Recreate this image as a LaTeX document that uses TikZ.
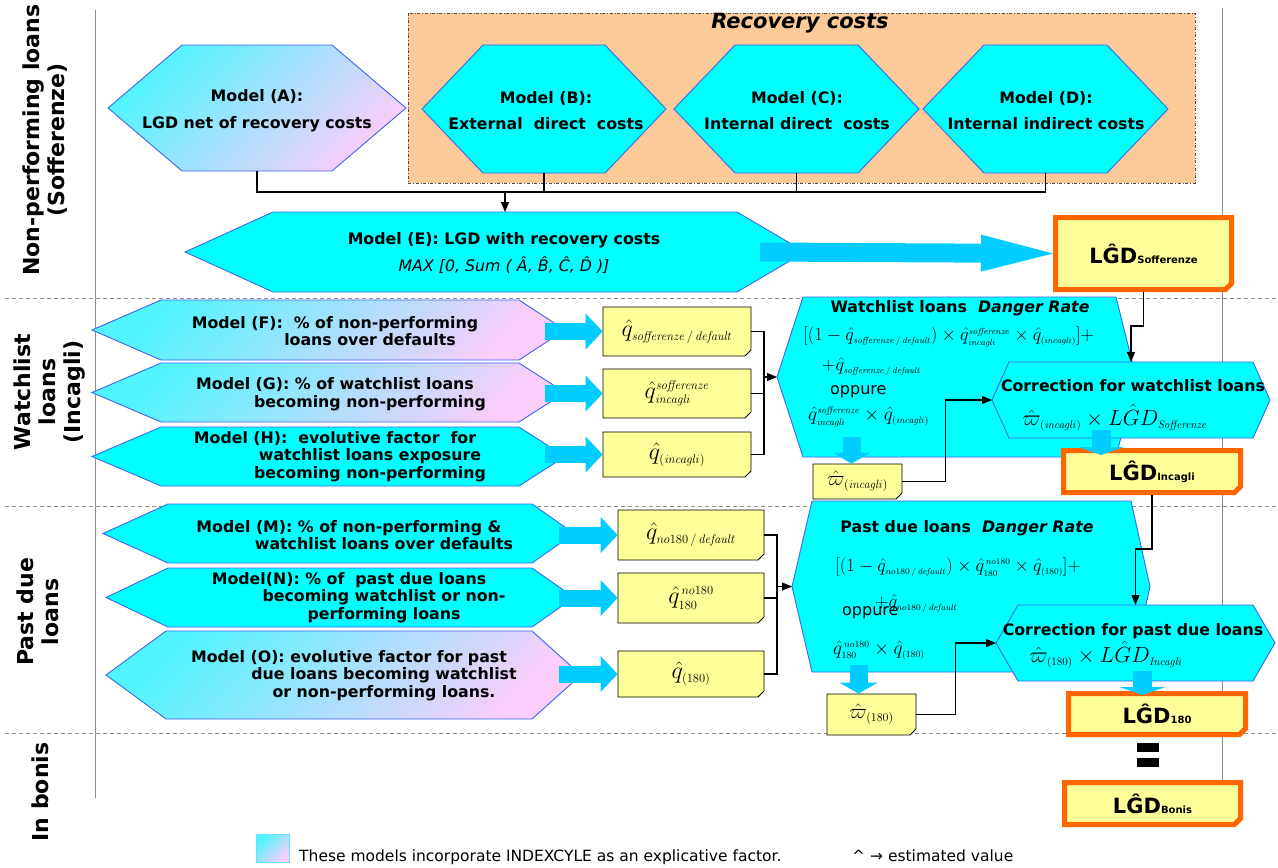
\RequirePackage{fix-cm}
\documentclass[tikz,border=0pt]{standalone}
\usepackage[no-math]{fontspec}
\setmainfont{DejaVu Sans}
\usetikzlibrary{arrows.meta, calc, shapes.misc}

\definecolor{hexcyan}{RGB}{0,255,255}
\definecolor{hexline}{RGB}{60,100,245}
\definecolor{gradcyan}{RGB}{80,245,255}
\definecolor{gradpink}{RGB}{250,205,250}
\definecolor{blockblue}{RGB}{0,204,255}
\definecolor{noteyellow}{RGB}{255,255,153}
\definecolor{lgdorange}{RGB}{255,102,0}
\definecolor{recpeach}{RGB}{252,202,152}
\definecolor{sepgray}{RGB}{140,140,140}

% formula sizes with small indices
\DeclareMathSizes{24}{24}{12.5}{9}
\DeclareMathSizes{22}{22}{11}{8}
\DeclareMathSizes{21}{21}{12}{9}
\DeclareMathSizes{18.5}{18.5}{8.8}{7}
\DeclareMathSizes{19.5}{19.5}{9.5}{7}

\begin{document}
\begin{tikzpicture}[
    x=1pt, y=-1pt,
    >={Triangle[length=10pt, width=8pt]},
    hexbox/.style={rectangle, inner sep=0pt, outer sep=0pt},
    hexflat/.style={fill=hexcyan, draw=hexline, line width=0.9pt},
    hexgrad/.style={left color=gradcyan, right color=gradpink, shading angle=45,
                    draw=hexline, line width=0.9pt},
    lbl/.style={font=\bfseries\fontsize{15.8}{17.5}\selectfont, align=center,
                inner sep=0pt},
    sidelbl/.style={font=\bfseries\fontsize{22}{25}\selectfont, align=center,
                    rotate=90, inner sep=0pt},
    form/.style={font=\fontsize{18.5}{20}\selectfont, inner sep=0pt, anchor=west},
    oppure/.style={font=\fontsize{16}{18}\selectfont, inner sep=0pt, anchor=west},
    corr/.style={font=\fontsize{22}{24}\selectfont, inner sep=0pt},
    note/.style={chamfered rectangle, chamfered rectangle corners=south east,
                 chamfered rectangle sep=3pt, draw, line width=0.8pt,
                 fill=noteyellow, inner sep=0pt},
    qbox/.style={note, font=\fontsize{24}{26}\selectfont},
    wbox/.style={note, minimum width=89pt, font=\fontsize{21}{23}\selectfont},
    lgd/.style={note, draw=lgdorange, line width=5pt,
                font=\bfseries\fontsize{21}{24}\selectfont},
    link/.style={line width=1.1pt, black},
    secline/.style={draw=sepgray, line width=1pt},
    divider/.style={draw=sepgray, line width=0.8pt, dash pattern=on 4pt off 3pt},
    bigarrow/.style={draw=blockblue, line width=19pt,
                     -{Triangle[length=72pt, width=37pt, line width=0pt]}},
    smallarrow/.style={draw=blockblue, line width=17pt,
                       -{Triangle[length=17pt, width=36pt, line width=0pt]}},
    downarrow/.style={draw=blockblue, line width=18pt,
                      -{Triangle[length=11pt, width=38pt, line width=0pt]}},
    flatarrow/.style={draw=blockblue, line width=19pt,
                      -{Triangle[length=8pt, width=46pt, line width=0pt]}}
  ]
  \useasboundingbox (0,0) rectangle (1278,868);

  % section rules
  \draw[secline] (95,10) -- (95,798);
  \draw[secline] (1222,8) -- (1222,790);
  \foreach \y in {298,506,733}
    \draw[divider] (5,\y) -- (1278,\y);

  % recovery costs frame
  \draw[fill=recpeach, draw=black!70, dash dot, line width=0.9pt]
    (408,13) rectangle (1195,183);
  \node[font=\bfseries\itshape\fontsize{21}{24}\selectfont] (tRC) at (800,23)
    {Recovery costs};

  % hexagons: name/x/y/width/height/left tip/right tip/style
  \foreach \n/\x/\y/\w/\h/\dl/\dr/\s in {
      mA/257/108/298/126/74/74/hexgrad, mB/544/109/244/128/61/61/hexflat,
      mC/796.5/109/245/128/61/61/hexflat, mD/1045.5/109/245/128/61/61/hexflat,
      mE/495/252/620/80/88/68/hexflat,
      mF/328.5/330/473/60/69/46/hexgrad, mG/328.5/392.5/473/59/69/46/hexgrad,
      mH/328.5/456.5/473/59/69/46/hexflat,
      mM/338.5/533.5/471/59/65/42/hexflat, mN/340/597.5/468/59/62/42/hexflat,
      mO/343.5/675/475/88/60/49/hexgrad,
      drW/956.5/377/359/160/26/20/hexflat, drP/971/586.5/358/171/20/19/hexflat,
      corW/1131/400/278/76/17/17/hexflat, corP/1135.5/643/279/76/22/22/hexflat} {
    \node[hexbox, minimum width=\w, minimum height=\h] (\n) at (\x,\y) {};
    \draw[\s] (\n.west) -- ($(\n.north west)+(\dl,0)$)
      -- ($(\n.north east)+(-\dr,0)$) -- (\n.east)
      -- ($(\n.south east)+(-\dr,0)$) -- ($(\n.south west)+(\dl,0)$) -- cycle;
  }

  % section labels
  \node[sidelbl] (lNP) at (45,140) {Non-performing loans\\(Sofferenze)};
  \node[sidelbl] (lWL) at (50,392) {Watchlist\\loans\\(Incagli)};
  \node[sidelbl] (lPD) at (38,612) {Past due\\loans};
  \node[sidelbl] (lIB) at (40,792) {In bonis};

  % model texts
  \node[lbl] (tA) at (257,110.5) {Model (A):\\[9pt]LGD net of recovery costs};
  \node[lbl] (tB) at (546,110.5) {Model (B):\\[9pt]External~ direct~ costs};
  \node[lbl] (tC) at (797,110.5) {Model (C):\\[9pt]Internal direct~ costs};
  \node[lbl] (tD) at (1046,110.5) {Model (D):\\[9pt]Internal indirect costs};
  \node[lbl] (tE) at (504,253) {Model (E): LGD with recovery costs\\[7pt]
    {\mdseries\itshape MAX [0, Sum ( \^A, \^B, \^C, \^D )]}};
  \node[lbl] (tF) at (370,331)
    {Model (F):~ \% of non-performing\hspace*{70pt}\\loans over defaults};
  \node[lbl] (tG) at (370,394)
    {Model (G): \% of watchlist loans\hspace*{70pt}\\becoming non-performing};
  \node[lbl] (tH) at (370,456.5)
    {Model (H):~ evolutive factor~ for\hspace*{70pt}\\watchlist loans exposure\\becoming non-performing};
  \node[lbl] (tM) at (384,535)
    {Model (M): \% of non-performing \&\hspace*{70pt}\\watchlist loans over defaults};
  \node[lbl] (tN) at (384,597.5)
    {Model(N): \% of~ past due loans\hspace*{70pt}\\becoming watchlist or non-\\performing loans};
  \node[lbl] (tO) at (384,675.5)
    {Model (O): evolutive factor for past\hspace*{70pt}\\due loans becoming watchlist\\or non-performing loans.};

  % danger rates
  \node[lbl] (tDW) at (960,308) {Watchlist loans~ {\itshape Danger Rate}};
  \node[form] (fW1) at (803,337)
    {$\Bigl[\Bigl(1-\hat{q}_{\mathit{sofferenze}\,/\,\mathit{default}}\Bigr)\times
      \hat{q}^{\mathit{sofferenze}}_{\mathit{incagli}}\times
      \hat{q}_{(\mathit{incagli})}\Bigr]+$};
  \node[form] (fW2) at (822,367)
    {$+\hat{q}_{\mathit{sofferenze}\,/\,\mathit{default}}$};
  \node[oppure] (oW) at (830,392) {oppure};
  \node[form, font=\fontsize{19.5}{21}\selectfont] (fW3) at (808,417)
    {$\hat{q}^{\mathit{sofferenze}}_{\mathit{incagli}}\times\hat{q}_{(\mathit{incagli})}$};

  \node[lbl] (tDP) at (967,528) {Past due loans~ {\itshape Danger Rate}};
  \node[form] (fP1) at (835,567)
    {$\Bigl[\Bigl(1-\hat{q}_{no180\,/\,\mathit{default}}\Bigr)\times
      \hat{q}^{\,no180}_{180}\times\hat{q}_{(180)}\Bigr]+$};
  \node[form] (fP2) at (875,604) {$+\hat{q}_{no180\,/\,\mathit{default}}$};
  \node[oppure] (oP) at (842,613) {oppure};
  \node[form, font=\fontsize{19.5}{21}\selectfont] (fP3) at (833,650)
    {$\hat{q}^{\,no180}_{180}\times\hat{q}_{(180)}$};

  % corrections
  \node[lbl] (tCW) at (1133,386) {Correction for watchlist loans};
  \node[corr] (fCW) at (1115,418)
    {$\hat{\varpi}_{(\mathit{incagli})}\times L\hat{G}D_{\mathit{Sofferenze}}$};
  \node[lbl] (tCP) at (1133,631) {Correction for past due loans};
  \node[corr] (fCP) at (1106,655)
    {$\hat{\varpi}_{(180)}\times L\hat{G}D_{\mathit{Incagli}}$};

  % estimates
  \node[qbox, minimum width=148pt, minimum height=49pt] (q1) at (677,331.5)
    {$\hat{q}_{\mathit{sofferenze}\,/\,\mathit{default}}$};
  \node[qbox, minimum width=148pt, minimum height=49pt] (q2) at (677,393.5)
    {$\hat{q}^{\mathit{sofferenze}}_{\mathit{incagli}}$};
  \node[qbox, minimum width=148pt, minimum height=45pt] (q3) at (677,454.5)
    {$\hat{q}_{(\mathit{incagli})}$};
  \node[qbox, minimum width=146pt, minimum height=50pt] (p1) at (691,535)
    {$\hat{q}_{no180\,/\,\mathit{default}}$};
  \node[qbox, minimum width=146pt, minimum height=50pt] (p2) at (691,598)
    {$\hat{q}^{\,no180}_{180}$};
  \node[qbox, minimum width=146pt, minimum height=46pt] (p3) at (691,674)
    {$\hat{q}_{(180)}$};
  \node[wbox, minimum height=35pt] (wW) at (857.5,481.5)
    {$\hat{\varpi}_{(\mathit{incagli})}$};
  \node[wbox, minimum height=41pt] (wP) at (871.5,714.5)
    {$\hat{\varpi}_{(180)}$};

  \node[lgd, minimum width=176pt, minimum height=72pt] (lgdS) at (1143.5,253.5)
    {L\^GD{\fontsize{10}{10}\selectfont Sofferenze}};
  \node[lgd, minimum width=177pt, minimum height=42pt] (lgdI) at (1152,471.5)
    {L\^GD{\fontsize{10}{10}\selectfont Incagli}};
  \node[lgd, minimum width=177pt, minimum height=41pt] (lgd180) at (1157,714)
    {L\^GD{\fontsize{10}{10}\selectfont 180}};
  \node[lgd, minimum width=176pt, minimum height=42pt] (lgdB) at (1152.5,803.5)
    {L\^GD{\fontsize{10}{10}\selectfont Bonis}};

  % connectors
  \coordinate (jRC) at (505,192);
  \foreach \m in {mA,mB,mC,mD}
    \draw[link] (\m.south) |- (jRC);
  \draw[link, ->] (jRC) -- (jRC |- mE.north);

  \coordinate (jW) at (764,377);
  \draw[link] (q1.east) -| (jW);
  \draw[link] (q3.east) -| (jW);
  \draw[link] (q2.east) -- (q2.east -| jW);
  \draw[link, ->] (jW) -- (drW.west);

  \coordinate (jP) at (777,586.5);
  \draw[link] (p1.east) -| (jP);
  \draw[link] (p3.east) -| (jP);
  \draw[link] (p2.east) -- (p2.east -| jP);
  \draw[link, ->] (jP) -- (drP.west);

  \draw[link, ->] (wW.east) -- ++(43,0) |- (corW.west);
  \draw[link, ->] (wP.east) -- ++(39,0) |- (corP.west);
  \draw[link, ->] (lgdS.south) -- ++(0,34) -| (corW.north);
  \draw[link, ->] (lgdI.south) -- ++(0,54) -| (corP.north);

  % block arrows
  \draw[bigarrow] ($(mE.east)+(-45,0)$) -- (lgdS.west);
  \foreach \b in {q1,q2,q3}
    \draw[smallarrow] ($(\b.west)+(-58,0)$) -- (\b.west);
  \foreach \b in {p1,p2,p3}
    \draw[smallarrow] ($(\b.west)+(-59,0)$) -- (\b.west);
  \draw[downarrow] ($(wW.north)+(-6,-27)$) -- ($(wW.north)+(-6,0)$);
  \draw[downarrow] ($(wP.north)+(-13,-29)$) -- ($(wP.north)+(-13,0)$);
  \draw[flatarrow] ($(corW.south)+(-30,-8)$) -- ($(corW.south)+(-30,17)$);
  \draw[flatarrow] ($(corP.south)+(7,-10)$) -- ($(corP.south)+(7,14)$);

  % equality between LGD 180 and LGD bonis
  \fill (1137,743) rectangle (1159,752);
  \fill (1137,758) rectangle (1159,767);

  % legend
  \node[minimum width=33pt, minimum height=28pt, inner sep=0pt,
        left color=gradcyan, right color=gradpink, shading angle=45,
        draw=blockblue!60, line width=0.8pt] (key) at (273,848.5) {};
  \node[anchor=base west, font=\fontsize{15.5}{17}\selectfont, inner sep=0pt]
    (keyTxt) at (299,861)
    {These models incorporate INDEXCYLE as an explicative factor.};
  \node[anchor=base west, font=\fontsize{15.5}{17}\selectfont, inner sep=0pt]
    (hatTxt) at (852,861) {\textasciicircum\ → estimated value};
\end{tikzpicture}
\end{document}
